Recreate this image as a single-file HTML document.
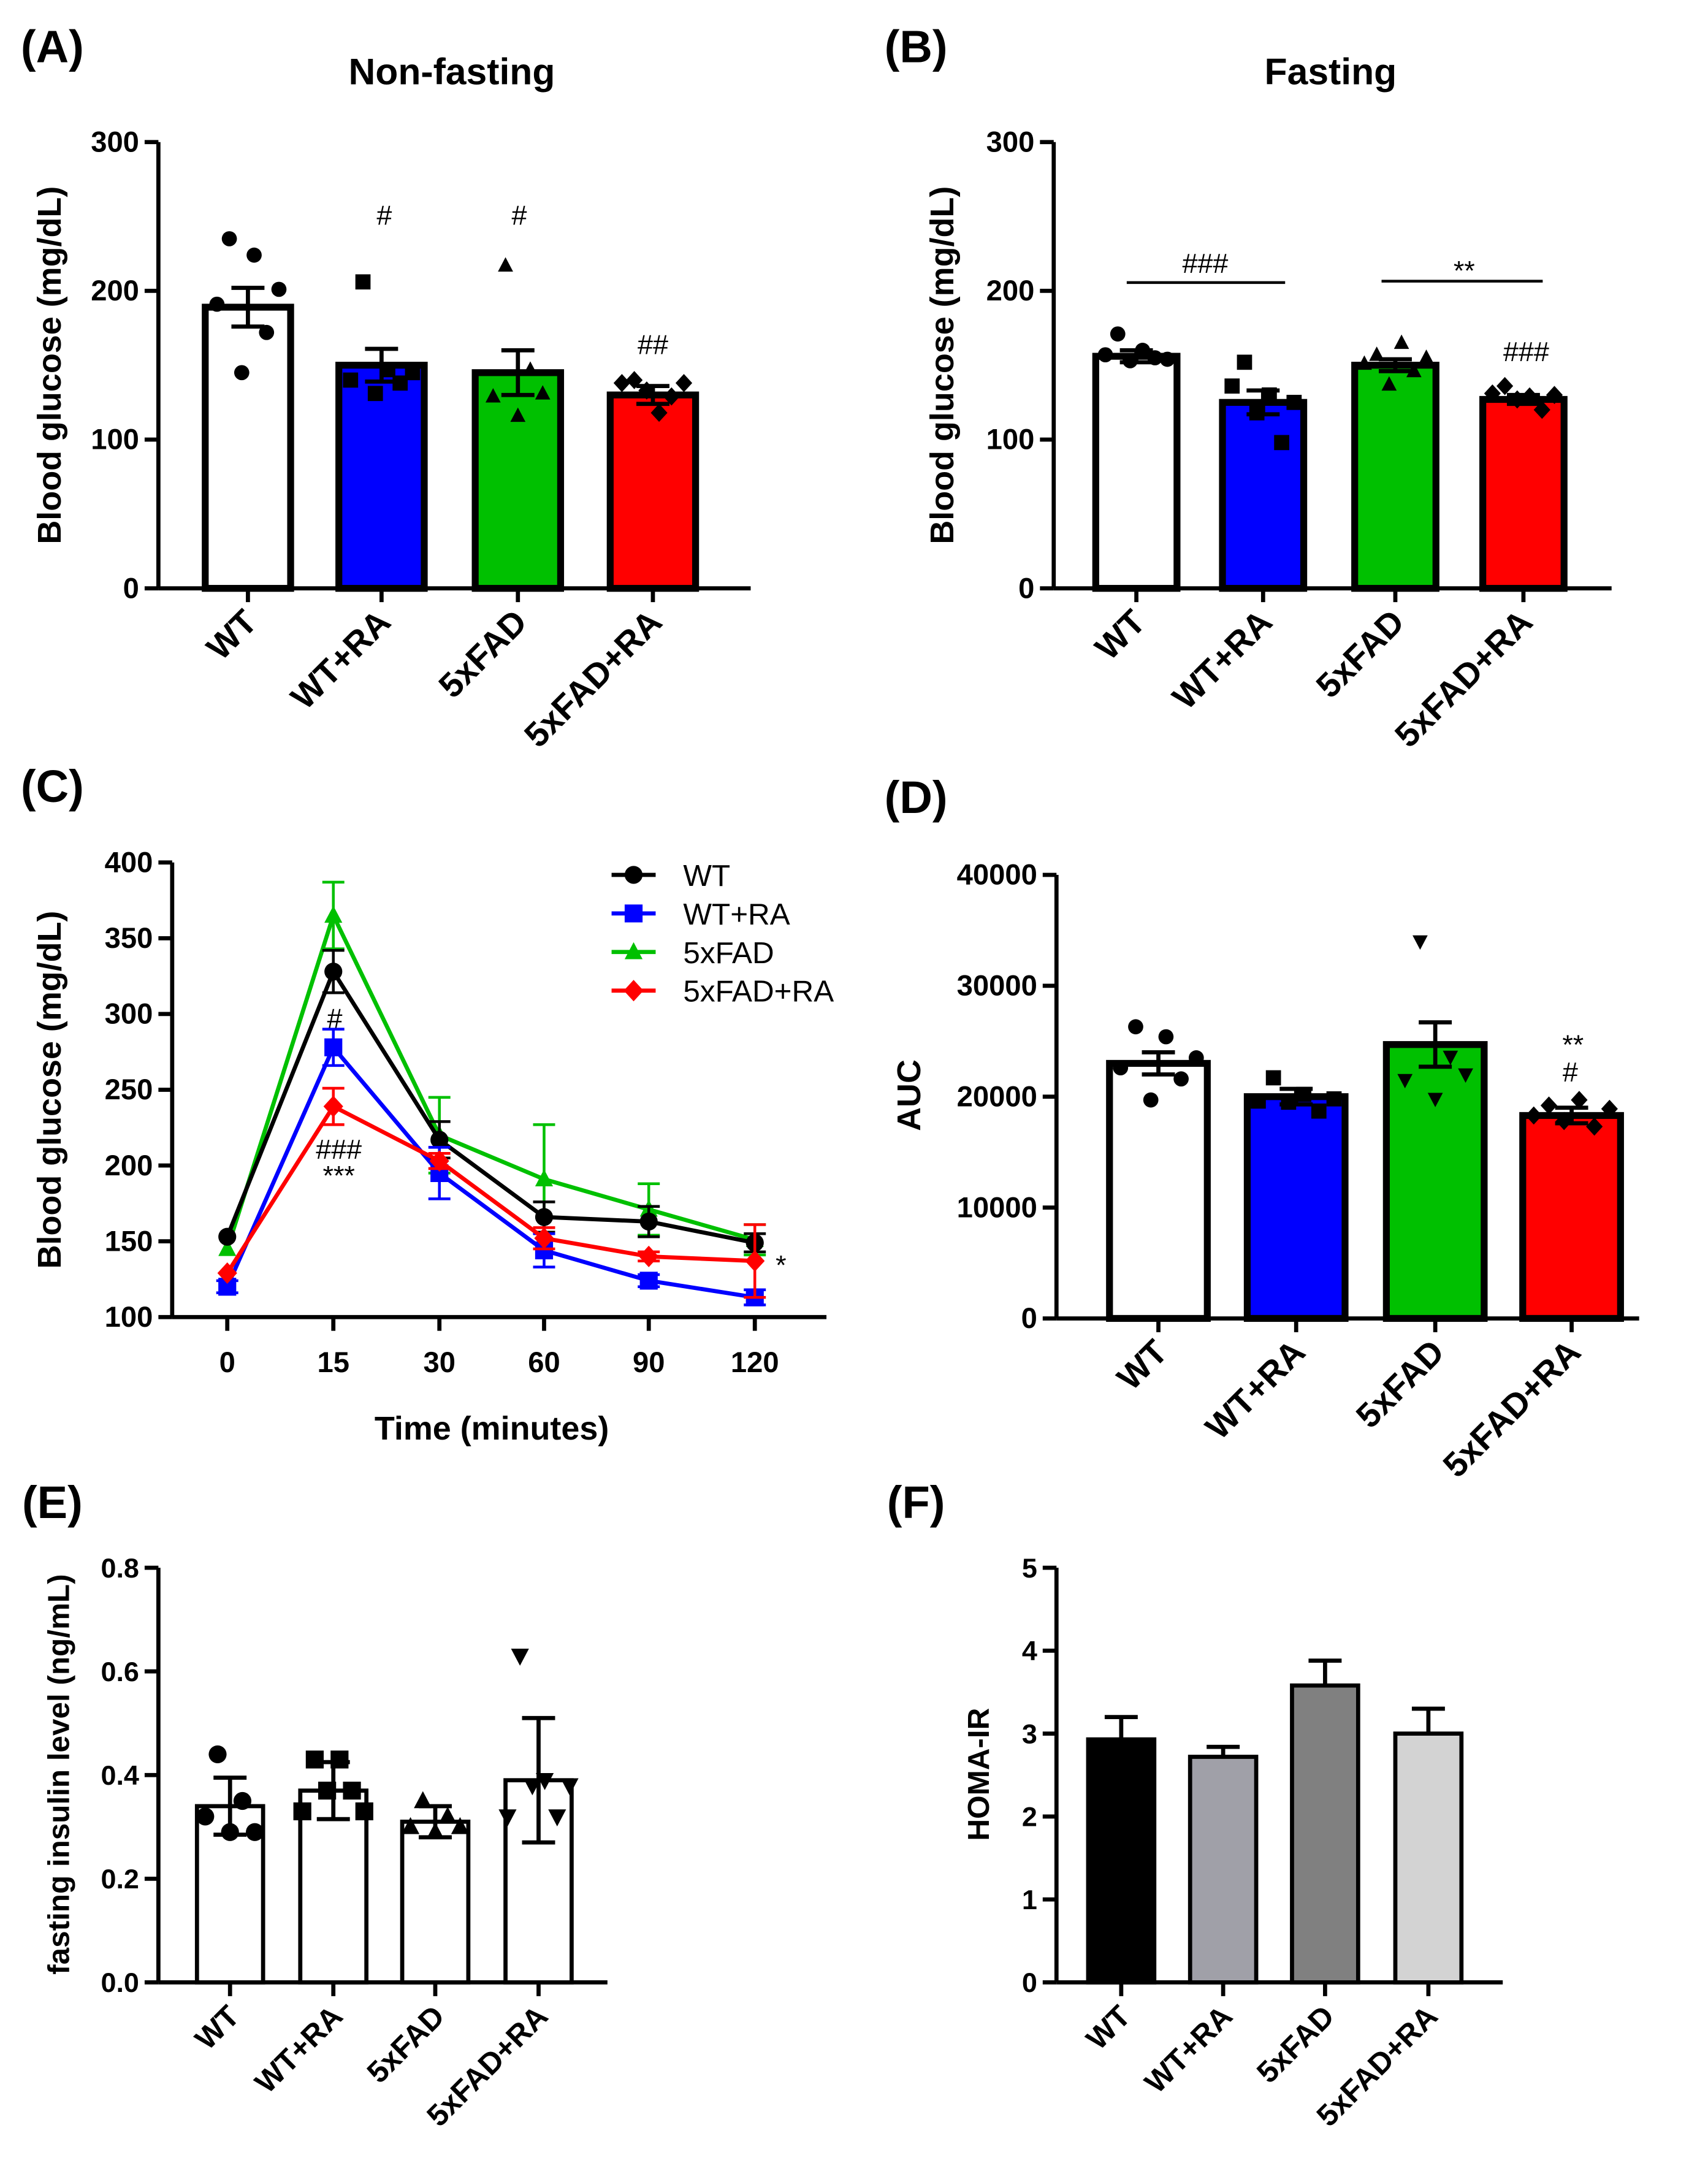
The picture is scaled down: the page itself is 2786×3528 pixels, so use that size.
<!DOCTYPE html>
<html><head><meta charset="utf-8"><style>
html,body{margin:0;padding:0;background:#fff;}
svg{display:block;font-family:"Liberation Sans",Arial,sans-serif;}
</style></head><body>
<svg id="fig" width="2786" height="3528" viewBox="0 0 1240 1570" xmlns="http://www.w3.org/2000/svg"></svg>
<script>
// ---------- DATA ----------
const groups = ["WT","WT+RA","5xFAD","5xFAD+RA"];
const aMeans = [189,150,145,130];
const aErr = [13,11,15,6];
const aPts = [[191,235,145,224,172,201],[140,206,131,147,138,145],[129,217,116,147,131],[138,140,133,118,129,138]];
const bMeans = [156,125,150,127];
const bErr = [4,8,4,3];
const bPts = [[157,171,153,160,155,154],[136,152,118,130,98,125],[151,157,137,165,146,155],[131,136,127,129,120,130]];
const cTimes = [0,15,30,60,90,120];
const cTickLabels = ["0","15","30","60","90","120"];
const cWT = [153,328,217,166,163,149];
const cWTe = [0,14,12,10,10,6];
const cWTRA = [120,278,195,144,124,113];
const cWTRAe = [4,12,17,11,4,5];
const cFAD = [145,365,220,191,171,151];
const cFADe = [0,22,25,36,17,10];
const cFADRA = [129,239,203,152,140,137];
const cFADRAe = [0,12,5,7,3,24];
const dMeans = [23000,20000,24700,18300];
const dErr = [1000,700,2000,700];
const dPts = [[22600,26300,19700,25400,21600,23500],[19600,21700,19500,20200,18700,19800],[21500,34000,19800,23600,22000],[18300,19200,17800,19700,17300,18900]];
const eMeans = [0.34,0.37,0.31,0.39];
const eErr = [0.055,0.055,0.03,0.12];
const ePts = [[0.32,0.44,0.29,0.35,0.29],[0.33,0.43,0.37,0.43,0.37,0.33],[0.30,0.35,0.29,0.32,0.30],[0.32,0.63,0.38,0.39,0.32,0.38]];
const fMeans = [2.93,2.72,3.58,3.0];
const fErr = [0.27,0.12,0.3,0.3];

// ---------- HELPERS ----------
const NS="http://www.w3.org/2000/svg";
const svg=document.getElementById('fig');
function el(tag,attrs,parent,txt){const e=document.createElementNS(NS,tag);for(const k in attrs)e.setAttribute(k,attrs[k]);if(txt!==undefined)e.textContent=txt;(parent||svg).appendChild(e);return e;}
function grp(name){const g=el('g',{});return g;}
function text(g,x,y,s,size,extra){const t=el('text',Object.assign({x:x,y:y,'font-size':size,'font-weight':'bold','text-anchor':'middle',fill:'#000'},extra||{}),g,s);return t;}
function marker(g,shape,x,y,s,color){
  s=s||6;color=color||'#000';
  if(shape==='circle')return el('circle',{cx:x,cy:y,r:s,fill:color},g);
  if(shape==='square')return el('rect',{x:x-s,y:y-s,width:2*s,height:2*s,fill:color},g);
  if(shape==='tri')return el('polygon',{points:`${x},${y-s*1.1} ${x-s},${y+s*0.8} ${x+s},${y+s*0.8}`,fill:color},g);
  if(shape==='tridown')return el('polygon',{points:`${x},${y+s*1.1} ${x-s},${y-s*0.8} ${x+s},${y-s*0.8}`,fill:color},g);
  if(shape==='diamond')return el('polygon',{points:`${x},${y-s*1.2} ${x+s*1.1},${y} ${x},${y+s*1.2} ${x-s*1.1},${y}`,fill:color},g);
}
function yAxis(g,x,yScale,ticks,labels,tickSize){
  el('line',{x1:x,x2:x,y1:yScale(ticks[ticks.length-1]),y2:yScale(ticks[0]),stroke:'#000','stroke-width':3},g);
  ticks.forEach((t,i)=>{const y=yScale(t);el('line',{x1:x-10,x2:x,y1:y,y2:y,stroke:'#000','stroke-width':3},g);text(g,x-14,y+7,labels[i],tickSize||21,{'text-anchor':'end'});});
}
function barPanel(opt){
  const g=grp(opt.name);
  const ys=v=>opt.y0-(v-opt.vmin)/(opt.vmax-opt.vmin)*(opt.y0-opt.y1);
  yAxis(g,opt.ax,ys,opt.ticks,opt.tickLabels,opt.tickSize);
  el('line',{x1:opt.ax,x2:opt.axEnd,y1:opt.y0,y2:opt.y0,stroke:'#000','stroke-width':3},g);
  opt.centers.forEach((c,i)=>{
    const top=ys(opt.means[i]);
    const b=el('rect',{x:c-opt.bw/2,y:top,width:opt.bw,height:opt.y0-top,fill:opt.fills[i],stroke:'#000','stroke-width':opt.sw},g);
    
    
    const eT=ys(opt.means[i]+opt.err[i]);
    const eB=ys(opt.means[i]-opt.err[i]);
    el('line',{x1:c,x2:c,y1:eT,y2:opt.errBoth?eB:top,stroke:'#000','stroke-width':3},g);
    el('line',{x1:c-12,x2:c+12,y1:eT,y2:eT,stroke:'#000','stroke-width':3},g);
    if(opt.errBoth)el('line',{x1:c-12,x2:c+12,y1:eB,y2:eB,stroke:'#000','stroke-width':3},g);
    if(opt.pts){const p=opt.pts[i];const n=p.length;p.forEach((v,j)=>{const m=marker(g,opt.shapes[i],c+(j-(n-1)/2)*opt.spread,ys(v),opt.ms);});}
    el('line',{x1:c,x2:c,y1:opt.y0,y2:opt.y0+10,stroke:'#000','stroke-width':3},g);
    const t=text(g,c+8,opt.y0+26,groups[i],opt.labSize||25,{'text-anchor':'end',transform:`rotate(-45 ${c+8} ${opt.y0+26})`});
    
  });
  const yl=text(g,opt.ylx,opt.yly,opt.ylabel,opt.ylSize||24,{transform:`rotate(-90 ${opt.ylx} ${opt.yly})`});
  
  return {g,ys};
}
const shapes=['circle','square','tri','diamond'];

// Panel letters and titles
[["(A)",38,45],["(B)",665,45],["(C)",38,582],["(D)",665,590],["(E)",38,1102],["(F)",665,1102]].forEach(l=>{const t=text(svg,l[1],l[2],l[0],33);});
{const t=text(svg,328,61,"Non-fasting",27);}
{const t=text(svg,966,61,"Fasting",27);}

// Panel A
{const p=barPanel({name:'panel-a',ax:115,axEnd:545,y0:427,y1:103,vmin:0,vmax:300,ticks:[0,100,200,300],tickLabels:["0","100","200","300"],centers:[180,277,376,474],bw:62,sw:5,means:aMeans,err:aErr,errBoth:true,pts:aPts,shapes:shapes,spread:9,ms:5.5,fills:['#fff','#0000ff','#00c000','#ff0000'],ylabel:'Blood glucose (mg/dL)',ylx:44,yly:265});
 text(p.g,279,163,"#",20,{'font-weight':'normal'});text(p.g,377,163,"#",20,{'font-weight':'normal'});text(p.g,474,257,"##",20,{'font-weight':'normal'});}
// Panel B
{const p=barPanel({name:'panel-b',ax:765,axEnd:1170,y0:427,y1:103,vmin:0,vmax:300,ticks:[0,100,200,300],tickLabels:["0","100","200","300"],centers:[825,917,1013,1106],bw:59,sw:5,means:bMeans,err:bErr,errBoth:true,pts:bPts,shapes:shapes,spread:9,ms:5.5,fills:['#fff','#0000ff','#00c000','#ff0000'],ylabel:'Blood glucose (mg/dL)',ylx:692,yly:265});
 el('line',{x1:818,x2:933,y1:205,y2:205,stroke:'#000','stroke-width':2},p.g);text(p.g,875,198,"###",20,{'font-weight':'normal'});
 el('line',{x1:1003,x2:1120,y1:204,y2:204,stroke:'#000','stroke-width':2},p.g);text(p.g,1063,203,"**",20,{'font-weight':'normal'});
 text(p.g,1108,262,"###",20,{'font-weight':'normal'});}
// Panel C
{const g=grp('panel-c');
 const y0=956,y1=626;const ys=v=>y0-(v-100)/300*(y0-y1);
 const xPos=[165,242,319,395,471,548];const xs=i=>xPos[i];
 yAxis(g,125,ys,[100,150,200,250,300,350,400],["100","150","200","250","300","350","400"],21);
 el('line',{x1:125,x2:600,y1:y0,y2:y0,stroke:'#000','stroke-width':3},g);
 cTimes.forEach((t,i)=>{el('line',{x1:xs(i),x2:xs(i),y1:y0,y2:y0+10,stroke:'#000','stroke-width':3},g);text(g,xs(i),y0+40,cTickLabels[i],21);});
 const series=[['wt',cWT,cWTe,'#000','circle'],['wt-ra',cWTRA,cWTRAe,'#0000ff','square'],['5xfad',cFAD,cFADe,'#00c000','tri'],['5xfad-ra',cFADRA,cFADRAe,'#ff0000','diamond']];
 const order=[2,0,1,3];
 order.forEach(k=>{const [nm,v,e,col,sh]=series[k];
   const sg=el('g',{},g);
   el('polyline',{points:v.map((d,i)=>xs(i)+','+ys(d)).join(' '),fill:'none',stroke:col,'stroke-width':3},sg);
   v.forEach((d,i)=>{if(e[i]>0){const a=ys(d+e[i]),b=ys(d-e[i]);el('line',{x1:xs(i),x2:xs(i),y1:a,y2:b,stroke:col,'stroke-width':2},sg);el('line',{x1:xs(i)-8,x2:xs(i)+8,y1:a,y2:a,stroke:col,'stroke-width':2},sg);el('line',{x1:xs(i)-8,x2:xs(i)+8,y1:b,y2:b,stroke:col,'stroke-width':2},sg);}
     const m=marker(sg,sh,xs(i),ys(d),6.5,col);});
 });
 text(g,243,746,"#",20,{'font-weight':'normal'});text(g,246,841,"###",20,{'font-weight':'normal'});text(g,246,860,"***",20,{'font-weight':'normal'});text(g,567,925,"*",20,{'font-weight':'normal'});
 const labels=["WT","WT+RA","5xFAD","5xFAD+RA"];
 labels.forEach((l,i)=>{const lg=el('g',{},g);
   const y=635+i*28;const [nm,v,e,col,sh]=series[i];
   el('line',{x1:444,x2:476,y1:y,y2:y,stroke:col,'stroke-width':3},lg);marker(lg,sh,460,y,6.5,col);
   text(lg,496,y+8,l,22,{'text-anchor':'start','font-weight':'normal'});});
 const yl=text(g,44,791,'Blood glucose (mg/dL)',24,{transform:'rotate(-90 44 791)'});
 const xl=text(g,357,1045,'Time (minutes)',24);}
// Panel D
{const p=barPanel({name:'panel-d',ax:767,axEnd:1190,y0:957,y1:635,vmin:0,vmax:40000,ticks:[0,10000,20000,30000,40000],tickLabels:["0","10000","20000","30000","40000"],centers:[841,941,1042,1141],bw:71,sw:5,means:dMeans,err:dErr,errBoth:true,pts:dPts,shapes:['circle','square','tridown','diamond'],spread:11,ms:5.5,fills:['#fff','#0000ff','#00c000','#ff0000'],ylabel:'AUC',ylx:668,yly:795});
 text(p.g,1142,765,"**",20,{'font-weight':'normal'});text(p.g,1140,785,"#",20,{'font-weight':'normal'});}
// Panel E
{barPanel({name:'panel-e',ax:115,axEnd:441,y0:1439,y1:1138,vmin:0,vmax:0.8,ticks:[0,0.2,0.4,0.6,0.8],tickLabels:["0.0","0.2","0.4","0.6","0.8"],tickSize:20,centers:[167,242,316,391],bw:48,sw:3,means:eMeans,err:eErr,errBoth:true,pts:ePts,shapes:['circle','square','tri','tridown'],spread:9,ms:6.5,fills:['#fff','#fff','#fff','#fff'],ylabel:'fasting insulin level (ng/mL)',ylx:50,yly:1288,ylSize:22,labSize:22});}
// Panel F
{barPanel({name:'panel-f',ax:767,axEnd:1091,y0:1439,y1:1138,vmin:0,vmax:5,ticks:[0,1,2,3,4,5],tickLabels:["0","1","2","3","4","5"],tickSize:20,centers:[814,888,962,1037],bw:48,sw:3,means:fMeans,err:fErr,errBoth:false,pts:null,fills:['#000','#a0a0a8','#808080','#d3d3d3'],ylabel:'HOMA-IR',ylx:718,yly:1288,ylSize:22,labSize:22});}
</script>
</body></html>
